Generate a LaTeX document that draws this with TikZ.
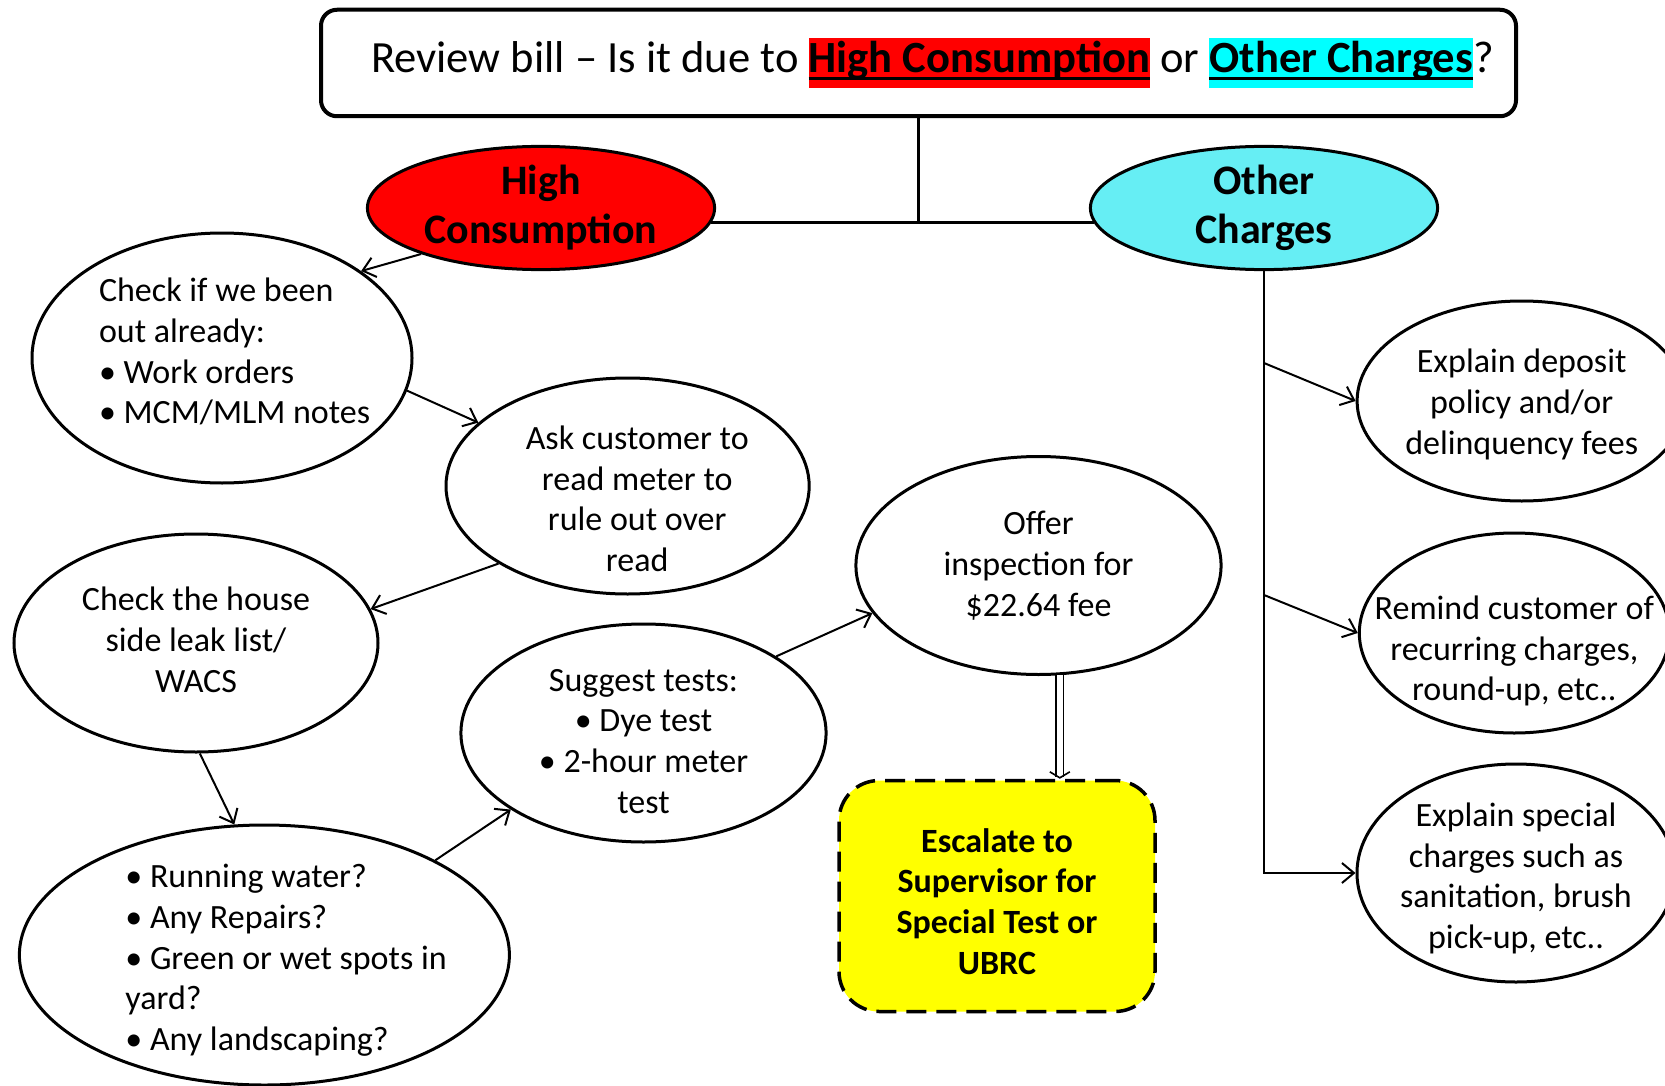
\documentclass[tikz,border=0pt]{standalone}
\usepackage{fontspec}
\setmainfont{Carlito}
\usetikzlibrary{shapes.geometric}
\usetikzlibrary{arrows.meta}
\definecolor{hcred}{RGB}{255,0,0}
\definecolor{occyan}{RGB}{102,238,244}
\definecolor{hlcyan}{RGB}{0,255,255}
\definecolor{escyellow}{RGB}{255,255,0}
\newlength{\hlwd}
\newcommand{\hilite}[2]{{\bfseries\settowidth{\hlwd}{#2}\setlength{\fboxsep}{0pt}\colorbox{#1}{\strut\rlap{\rule[-3.4pt]{\hlwd}{1.2pt}}#2}}}

\begin{document}
\begin{tikzpicture}[x=0.5pt, y=-0.5pt,
  every node/.style={inner sep=0pt},
  bubble/.style={ellipse, draw=black, line width=1.5pt, fill=white},
  btext/.style={align=center, font=\fontsize{17}{20.4}\selectfont},
  ltext/.style={btext, align=flush left},
  head/.style={ellipse, draw=black, line width=1.5pt, align=center, font=\fontsize{21}{24.5}\selectfont\bfseries},
  link/.style={line width=1pt, -{Straight Barb[length=6pt,width=10pt]}},
  trunk/.style={line width=1.5pt}]
\useasboundingbox (0,0) rectangle (1665,1086);
\node (title) [draw=black, line width=2pt, rounded corners=8pt, minimum width=597.5pt, minimum height=53.25pt, font=\fontsize{22.3}{25}\selectfont] at (918.5, 63) {\hspace*{14pt}Review bill -- Is it due to \hilite{hcred}{High Consumption} or \hilite{hlcyan}{Other Charges}?};
\node (hc) [head, fill=hcred, minimum width=173.6pt, minimum height=61.6pt] at (541, 208) {High\\Consumption};
\node (oc) [head, fill=occyan, minimum width=173.6pt, minimum height=61.6pt] at (1264, 208) {Other\\Charges};
% high consumption bubbles
\node (c1) [bubble, minimum width=190pt, minimum height=125pt] at (222, 358) {};
\node (c2) [bubble, minimum width=181.6pt, minimum height=108pt] at (627.6, 486) {};
\node (c3) [bubble, minimum width=182pt, minimum height=109pt] at (196, 643) {};
\node (c4) [bubble, minimum width=245pt, minimum height=130pt] at (264.4, 955) {};
\node (c5) [bubble, minimum width=182.6pt, minimum height=109pt] at (643.5, 733) {};
\node (c6) [bubble, minimum width=182.6pt, minimum height=109pt] at (1038.5, 565.5) {};
\node (esc) [draw=black, line width=1.75pt, dash pattern=on 10pt off 5pt, rounded corners=20pt, fill=escyellow, minimum width=158pt, minimum height=115.5pt] at (997, 896) {};
% other charges bubbles
\node (e1) [bubble, minimum width=164.6pt, minimum height=100pt] at (1521.7, 401) {};
\node (e2) [bubble, minimum width=155pt, minimum height=100pt] at (1514.3, 633) {};
\node (e3) [bubble, minimum width=159pt, minimum height=109pt] at (1516, 873) {};
% texts
\node (c1t) [ltext, text width=123pt, yshift=3.2pt] at (c1) {Check if we been\\out already:\\• Work orders\\\mbox{• MCM/MLM notes}};
\node (c2t) [btext, xshift=4.8pt, yshift=-6.4pt] at (c2) {Ask customer to\\read meter to\\rule out over\\read};
\node (c3t) [btext, yshift=1.6pt] at (c3) {Check the house\\side leak list/\\WACS};
\node (c4t) [ltext, text width=137pt, xshift=-1pt, yshift=-2.7pt] at (c4) {• Running water?\\• Any Repairs?\\\mbox{• Green or wet spots in}\\yard?\\• Any landscaping?};
\node (c5t) [btext, yshift=-4.2pt] at (c5) {Suggest tests:\\• Dye test\\• 2-hour meter\\test};
\node (c6t) [btext] at (c6) {Offer\\inspection for\\\$22.64 fee};
\node (esct) [btext, font=\fontsize{17}{20.4}\selectfont\bfseries, yshift=-2.7pt] at (esc) {Escalate to\\Supervisor for\\Special Test or\\UBRC};
\node (e1t) [btext, yshift=-1.6pt] at (e1) {Explain deposit\\policy and/or\\delinquency fees};
\node (e2t) [btext, yshift=-9pt] at (e2) {Remind customer of\\recurring charges,\\round-up, etc..};
\node (e3t) [btext, yshift=-2.7pt] at (e3) {Explain special\\charges such as\\sanitation, brush\\pick-up, etc..};
\coordinate (b1) at (1264, 363);
\coordinate (b2) at (1264, 595);
% top split
\draw [trunk] (hc.-5) to (oc.185);
\draw [trunk] (title.south) to (title.south |- hc.-5);
% high consumption path
\draw [link] (hc.201) to (c1.32);
\draw [link] (c1.-10) to (c2.157);
\draw [link] (c2.211) to (c3.11);
\draw [link] (c3.-88) to (c4.103);
\draw [link] (c4.29) to (c5.210);
\draw [link] (c5.30) to (c6.196);
\draw [line width=0.8pt, double, double distance=3pt, -{Straight Barb[length=3pt,width=10pt]}] (c6.-79) to (c6.-79 |- esc.north);
% other charges path
\draw [link] (oc.south) |- (e3.west);
\draw [link] (b1) to (e1.west);
\draw [link] (b2) to (e2.west);
\end{tikzpicture}
\end{document}
